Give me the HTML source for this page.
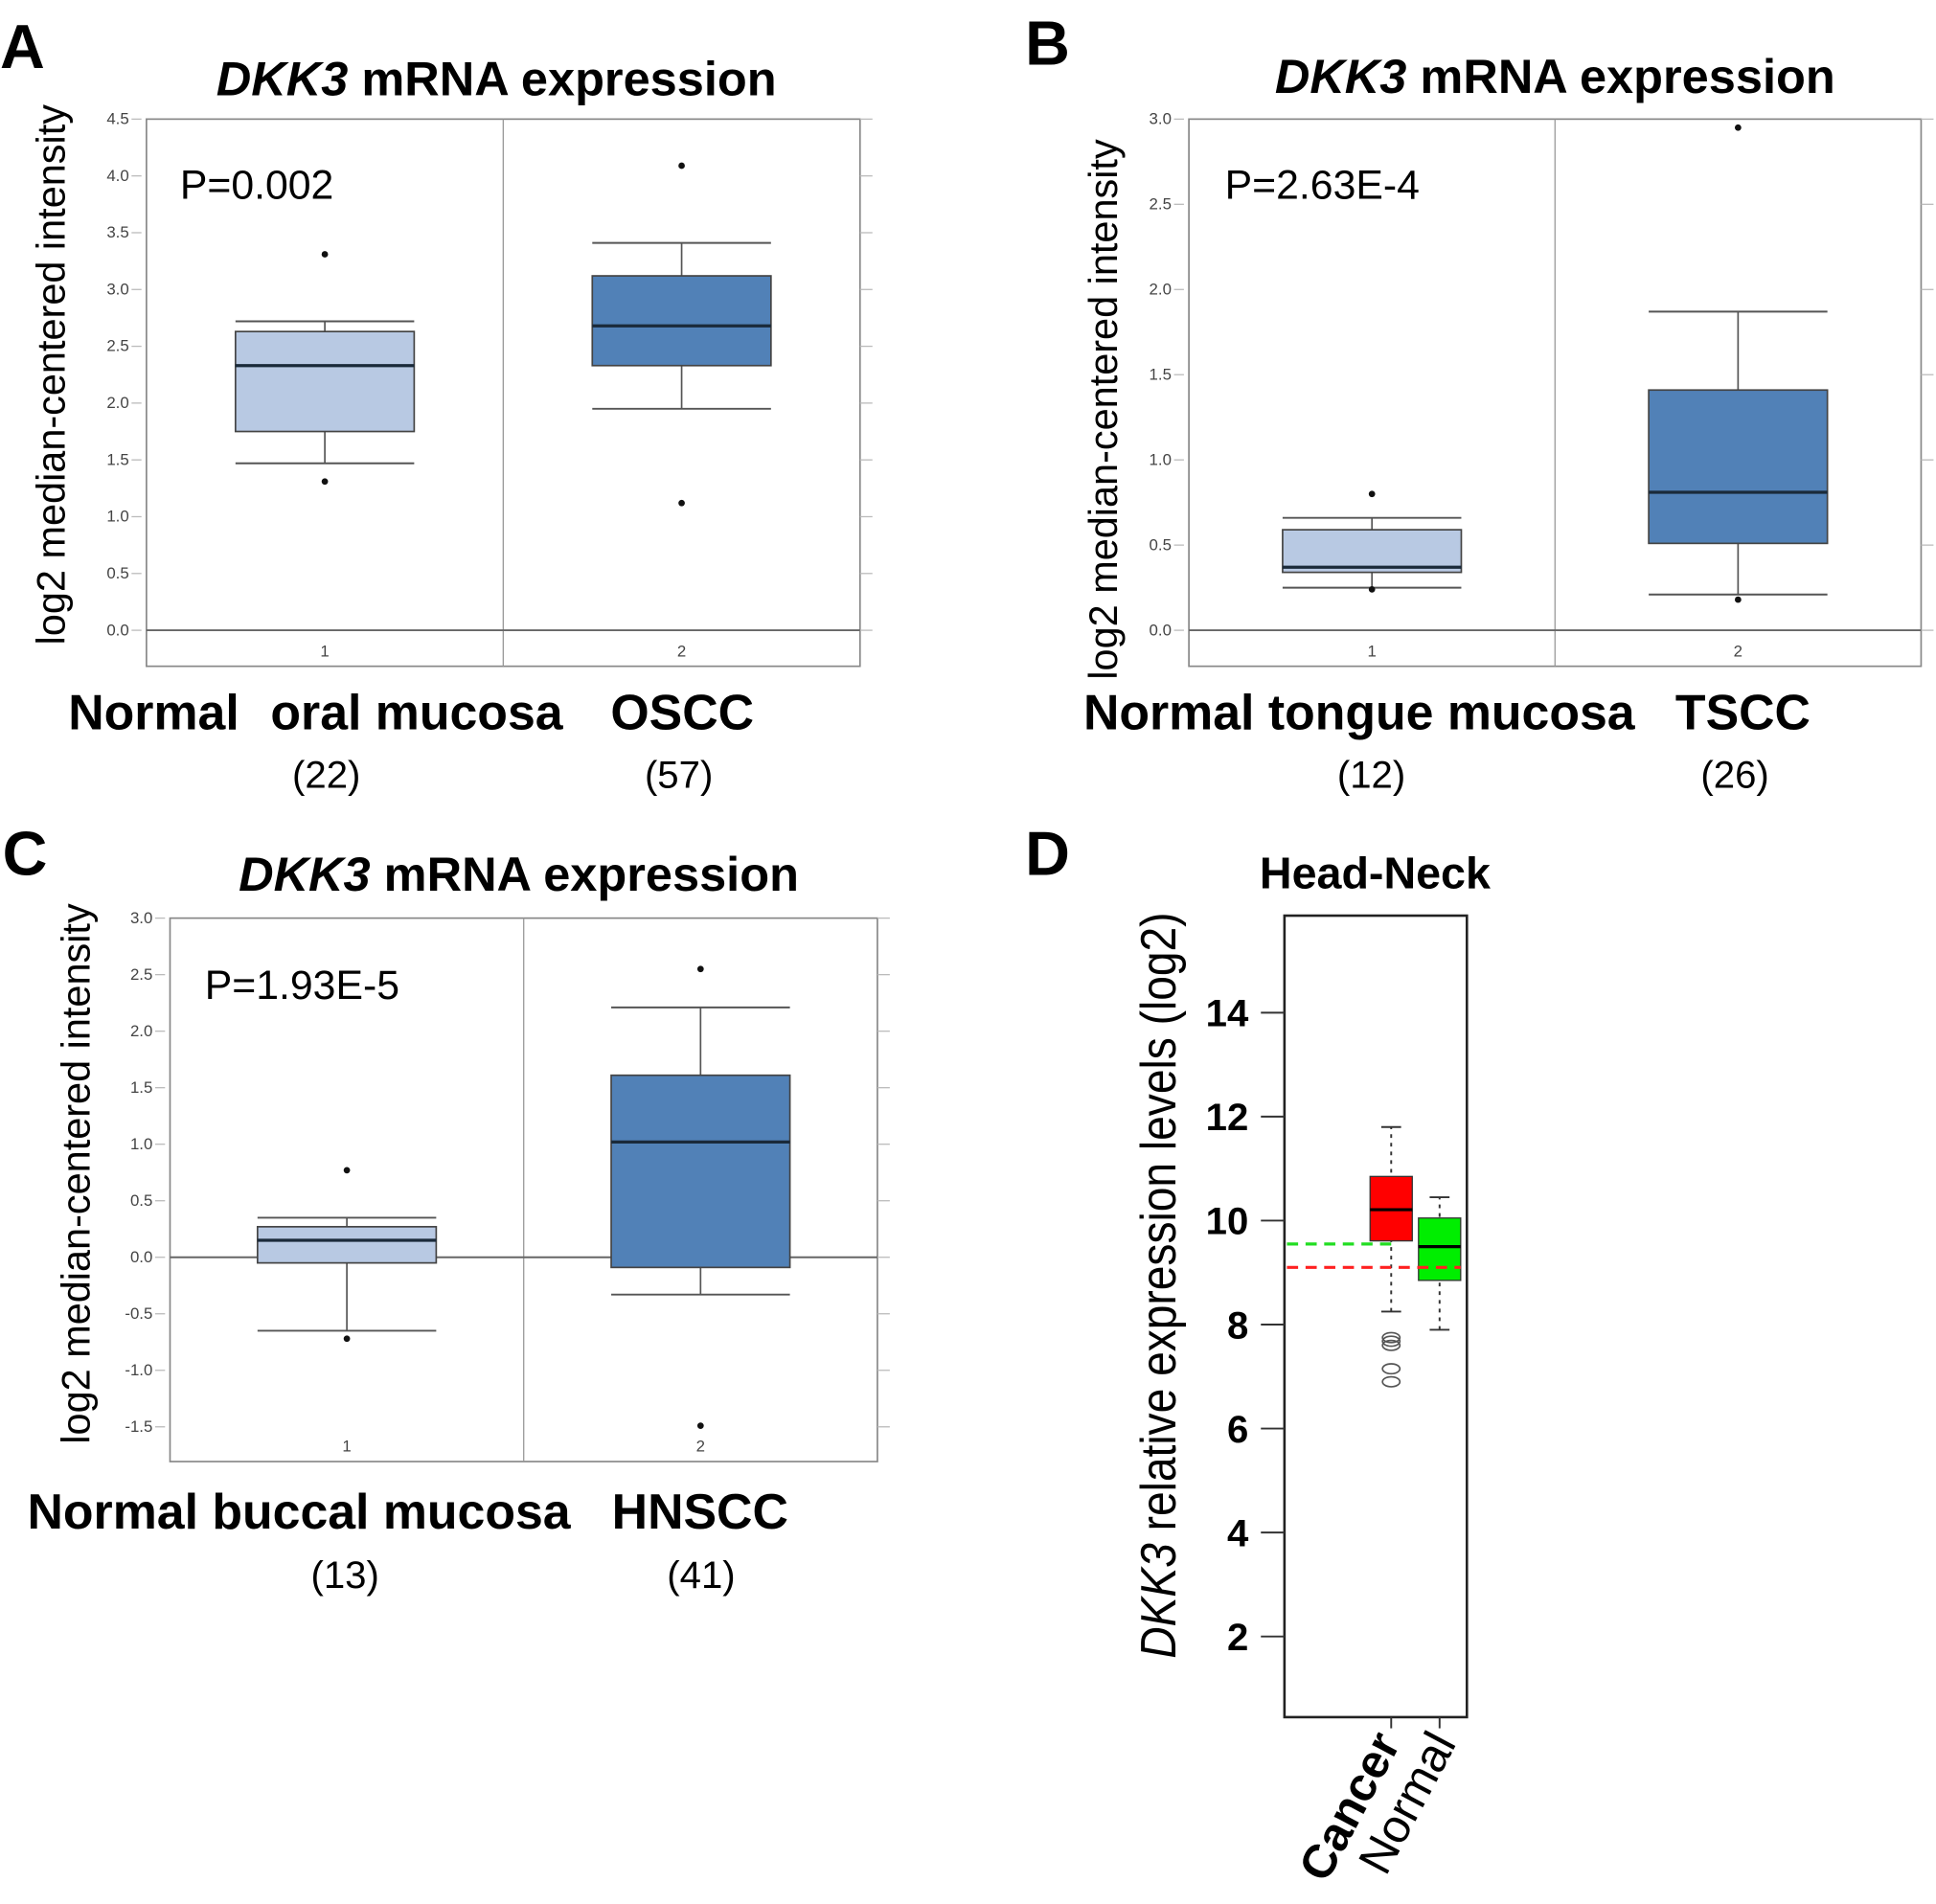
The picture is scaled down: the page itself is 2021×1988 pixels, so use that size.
<!DOCTYPE html>
<html><head><meta charset="utf-8"><style>
html,body{margin:0;padding:0;background:#fff}
svg{display:block}
text{font-family:"Liberation Sans",sans-serif}
</style></head><body>
<svg id="fig" width="2021" height="1988" viewBox="0 0 1560 1534.6" preserveAspectRatio="none" xmlns="http://www.w3.org/2000/svg">
<g id="panelA"></g>
<g id="panelB"></g>
<g id="panelC"></g>
<g id="panelD"></g>
</svg>
<script>
// ---- Data (panels A-C): [whiskerLow, q1, median, q3, whiskerHigh]
const aTicks = ["0.0","0.5","1.0","1.5","2.0","2.5","3.0","3.5","4.0","4.5"];
const aStats1 = [1.47, 1.75, 2.33, 2.63, 2.72];
const aStats2 = [1.95, 2.33, 2.68, 3.12, 3.41];
const aOut1 = [3.31, 1.31];
const aOut2 = [4.09, 1.12];

const bTicks = ["0.0","0.5","1.0","1.5","2.0","2.5","3.0"];
const bStats1 = [0.25, 0.34, 0.37, 0.59, 0.66];
const bStats2 = [0.21, 0.51, 0.81, 1.41, 1.87];
const bOut1 = [0.80, 0.24];
const bOut2 = [2.95, 0.18];

const cTicks = ["-1.5","-1.0","-0.5","0.0","0.5","1.0","1.5","2.0","2.5","3.0"];
const cStats1 = [-0.65, -0.05, 0.15, 0.27, 0.35];
const cStats2 = [-0.33, -0.09, 1.02, 1.61, 2.21];
const cOut1 = [0.77, -0.72];
const cOut2 = [2.55, -1.49];

// Panel D
const dTicks = [2,4,6,8,10,12,14];
const dCategories = ["Cancer","Normal"];
const dCancer = [8.25, 9.61, 10.21, 10.85, 11.8];
const dNormal = [7.9, 8.85, 9.5, 10.05, 10.45];
const dCancerOut = [7.75, 7.68, 7.6, 7.15, 6.9];
const dNormalMedianLine = 9.55;
const dCancerMedianLine = 9.1;

const NS="http://www.w3.org/2000/svg";
function mk(parent,tag,attrs,txt){const e=document.createElementNS(NS,tag);for(const k in attrs)e.setAttribute(k,attrs[k]);if(txt!==undefined)e.textContent=txt;parent.appendChild(e);return e;}

function oncoPanel(g,cfg){
  const {x0,x1,y0,y1,yTop,vTop,vBot,yBot,ticks,s1,s2,o1,o2}=cfg;
  const ys=v=>yBot+(v-vBot)*(yTop-yBot)/(vTop-vBot);
  const xm=(x0+x1)/2;
  let r=mk(g,'rect',{x:x0,y:y0,width:x1-x0,height:y1-y0,fill:'#fff',stroke:'#888','stroke-width':1.3});
  
  let d=mk(g,'line',{x1:xm,y1:y0,x2:xm,y2:y1,stroke:'#999','stroke-width':1});
  
  ticks.forEach(t=>{const v=parseFloat(t),y=ys(v);
    const tl=mk(g,'text',{x:x0-14,y:y+4,'font-size':13,fill:'#444','text-anchor':'end','font-family':'Liberation Serif, serif'},t);
    
    mk(g,'line',{x1:x0-12,y1:y,x2:x0-4,y2:y,stroke:'#bbb','stroke-width':1});
    mk(g,'line',{x1:x1,y1:y,x2:x1+10,y2:y,stroke:'#bbb','stroke-width':1});
  });
  const z=mk(g,'line',{x1:x0,y1:ys(0),x2:x1,y2:ys(0),stroke:'#666','stroke-width':1.5});
  
  [[s1,o1,'#b8c9e3',(x0+xm)/2,'1'],[s2,o2,'#5181b7',(xm+x1)/2,'2']].forEach(([s,o,col,cx,lab],i)=>{
    const hw=72;
    const bg=mk(g,'g',{});
    
    mk(bg,'line',{x1:cx,y1:ys(s[0]),x2:cx,y2:ys(s[1]),stroke:'#555','stroke-width':1.3});
    mk(bg,'line',{x1:cx,y1:ys(s[3]),x2:cx,y2:ys(s[4]),stroke:'#555','stroke-width':1.3});
    mk(bg,'line',{x1:cx-hw,y1:ys(s[0]),x2:cx+hw,y2:ys(s[0]),stroke:'#555','stroke-width':1.5});
    mk(bg,'line',{x1:cx-hw,y1:ys(s[4]),x2:cx+hw,y2:ys(s[4]),stroke:'#555','stroke-width':1.5});
    mk(bg,'rect',{x:cx-hw,y:ys(s[3]),width:2*hw,height:ys(s[1])-ys(s[3]),fill:col,stroke:'#444','stroke-width':1.3});
    mk(bg,'line',{x1:cx-hw,y1:ys(s[2]),x2:cx+hw,y2:ys(s[2]),stroke:'#1a2a3a','stroke-width':2.5});
    o.forEach(v=>{const c=mk(bg,'circle',{cx:cx,cy:ys(v),r:2.6,fill:'#111'});
      });
    const xl=mk(g,'text',{x:cx,y:y1-8,'font-size':13,fill:'#444','text-anchor':'middle','font-family':'Liberation Serif, serif'},lab);
    
  });
}
function txt(g,name,attrs,content,html){const t=mk(g,'text',attrs);if(html)t.innerHTML=content;else t.textContent=content;
  return t;}

function header(g,letter,lx,ly,tx,ty,p,px,py,ylx,yly,labels,counts){
  txt(g,'panel-letter',{x:lx,y:ly,'font-size':50,'font-weight':'bold'},letter);
  txt(g,'chart-title',{x:tx,y:ty,'font-size':39,'font-weight':'bold','text-anchor':'middle'},'<tspan font-style="italic">DKK3</tspan> mRNA expression',true);
  txt(g,'p-value',{x:px,y:py,'font-size':33},p);
  txt(g,'y-axis-title',{x:0,y:0,'font-size':32,'text-anchor':'middle',transform:`translate(${ylx},${yly}) rotate(-90)`},'log2 median-centered intensity');
  labels.forEach(l=>txt(g,'group-label',{x:l[1],y:l[2],'font-size':40,'font-weight':'bold'},l[0]));
  counts.forEach(c=>txt(g,'group-count',{x:c[1],y:c[2],'font-size':31,'text-anchor':'middle'},c[0]));
}

const A=document.getElementById('panelA');
oncoPanel(A,{x0:118,x1:693,y0:96,y1:537,yTop:96,vTop:4.5,yBot:508,vBot:0,ticks:aTicks,s1:aStats1,s2:aStats2,o1:aOut1,o2:aOut2});
header(A,'A',0,55,400,77,'P=0.002',145,160,52,302,[['Normal',55,588],['oral mucosa',218,588],['OSCC',492,588]],[['(22)',263,635],['(57)',547,635]]);

const B=document.getElementById('panelB');
oncoPanel(B,{x0:958,x1:1548,y0:96,y1:537,yTop:96,vTop:3.0,yBot:508,vBot:0,ticks:bTicks,s1:bStats1,s2:bStats2,o1:bOut1,o2:bOut2});
header(B,'B',826,52,1253,75,'P=2.63E-4',987,160,900,330,[['Normal tongue mucosa',873,588],['TSCC',1350,588]],[['(12)',1105,635],['(26)',1398,635]]);

const C=document.getElementById('panelC');
oncoPanel(C,{x0:137,x1:707,y0:740,y1:1178,yTop:740,vTop:3.0,yBot:1150,vBot:-1.5,ticks:cTicks,s1:cStats1,s2:cStats2,o1:cOut1,o2:cOut2});
header(C,'C',2,705,418,718,'P=1.93E-5',165,805,72,946,[['Normal buccal mucosa',22,1232],['HNSCC',493,1232]],[['(13)',278,1280],['(41)',565,1280]]);

// Panel D
(function(){
  const g=document.getElementById('panelD');
  const x0=1035,x1=1182,y0=738,y1=1384;
  const ys=v=>1319-(v-2)*41.9;
  txt(g,'panel-letter',{x:826,y:705,'font-size':50,'font-weight':'bold'},'D');
  txt(g,'chart-title',{x:1108,y:716,'font-size':36,'font-weight':'bold','text-anchor':'middle'},'Head-Neck');
  const fr=mk(g,'rect',{x:x0,y:y0,width:x1-x0,height:y1-y0,fill:'#fff',stroke:'#222','stroke-width':2});
  
  dTicks.forEach(v=>{const y=ys(v);
    mk(g,'line',{x1:1016,y1:y,x2:x0,y2:y,stroke:'#333','stroke-width':1.5});
    txt(g,'y-tick-label',{x:1006,y:y+11,'font-size':31,'font-weight':'bold','text-anchor':'end'},String(v));
  });
  txt(g,'y-axis-title',{x:0,y:0,'font-size':40,'text-anchor':'middle',transform:'translate(947,1036) rotate(-90) scale(0.89,1)'},'<tspan font-style="italic">DKK3</tspan> relative expression levels (log2)',true);
  const cx=[1121,1160], hw=[17,17], cols=['#ff0000','#00ee00'], stats=[dCancer,dNormal];
  mk(g,'line',{x1:1037,y1:ys(dNormalMedianLine),x2:1125,y2:ys(dNormalMedianLine),stroke:'#22dd22','stroke-width':2.5,'stroke-dasharray':'9,6'});
  stats.forEach((s,i)=>{
    const bg=mk(g,'g',{});
    
    
    mk(bg,'line',{x1:cx[i],y1:ys(s[0]),x2:cx[i],y2:ys(s[4]),stroke:'#333','stroke-width':1.5,'stroke-dasharray':'3,4'});
    mk(bg,'line',{x1:cx[i]-8,y1:ys(s[0]),x2:cx[i]+8,y2:ys(s[0]),stroke:'#333','stroke-width':1.5});
    mk(bg,'line',{x1:cx[i]-8,y1:ys(s[4]),x2:cx[i]+8,y2:ys(s[4]),stroke:'#333','stroke-width':1.5});
    mk(bg,'rect',{x:cx[i]-hw[i],y:ys(s[3]),width:2*hw[i],height:ys(s[1])-ys(s[3]),fill:cols[i],stroke:'#333','stroke-width':1});
    mk(bg,'line',{x1:cx[i]-hw[i],y1:ys(s[2]),x2:cx[i]+hw[i],y2:ys(s[2]),stroke:'#000','stroke-width':2.5});
    mk(g,'line',{x1:cx[i],y1:y1,x2:cx[i],y2:y1+9,stroke:'#333','stroke-width':1.5});
  });
  mk(g,'line',{x1:1037,y1:ys(dCancerMedianLine),x2:1177,y2:ys(dCancerMedianLine),stroke:'#ff2020','stroke-width':2.5,'stroke-dasharray':'9,6'});
  dCancerOut.forEach(v=>{const c=mk(g,'ellipse',{cx:cx[0],cy:ys(v),rx:7,ry:4,fill:'none',stroke:'#555','stroke-width':1.3});
    });
  txt(g,'x-tick-label',{x:0,y:0,'font-size':38,'font-weight':'bold','text-anchor':'end',transform:`translate(${cx[0]+8},1405) rotate(-62)`},dCategories[0]);
  txt(g,'x-tick-label',{x:0,y:0,'font-size':38,'text-anchor':'end',transform:`translate(${cx[1]+14},1405) rotate(-62)`},dCategories[1]);
})();
</script>
</body></html>
